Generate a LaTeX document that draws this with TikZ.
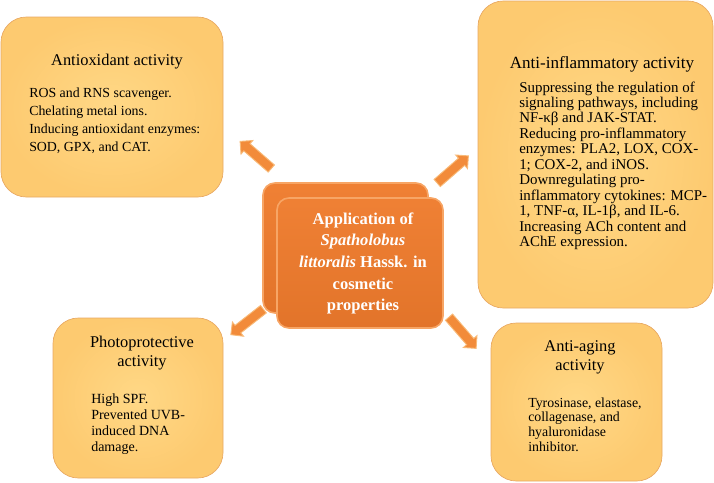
\documentclass[tikz,border=0pt]{standalone}
\usepackage{fontspec}
\setmainfont{Liberation Serif}
\usetikzlibrary{shapes.arrows}
\definecolor{peach}{HTML}{FFD886}
\definecolor{peachdark}{HTML}{FDCA70}
\definecolor{peachline}{HTML}{E8A862}
\definecolor{deeporange}{HTML}{EE7A2C}
\definecolor{lightorange}{HTML}{F7A565}
\definecolor{arrowfill}{HTML}{F28B3A}
\definecolor{arrowline}{HTML}{F8BA78}

% lines hang from the first baseline
\newcommand{\lefttext}[1]{\begin{tabular}[t]{@{}l@{}}#1\end{tabular}}
\newcommand{\midtext}[1]{\begin{tabular}[t]{@{}c@{}}#1\end{tabular}}

\tikzset{
  actbox/.style={draw=peachline, line width=0.5pt, rounded corners=19pt,
    inner color=peach, outer color=peachdark},
  appbox/.style={draw=lightorange, line width=1.2pt, rounded corners=9pt,
    top color=deeporange!85!lightorange, bottom color=deeporange!95!black},
  acttitle/.style={anchor=base, inner sep=0pt,
    font=\fontsize{12.3}{14.5}\selectfont},
  actbody/.style={anchor=base west, inner sep=0pt},
  fatarrow/.style={single arrow, draw=arrowline, fill=arrowfill, line width=0.7pt,
    inner sep=3.2pt, single arrow head extend=3.2pt, minimum height=31pt}
}

\begin{document}
\begin{tikzpicture}[x=0.75pt, y=-0.75pt]
\useasboundingbox (0,0) rectangle (714,482);
% box Antioxidant
\node[actbox, minimum width=166.5pt, minimum height=135pt] (antiox) at (112,107) {};
\node[acttitle] (antioxT) at (117,65) {Antioxidant activity};
\node[actbody, font=\fontsize{10.4}{13.5}\selectfont] (antioxB) at (29,97)
  {\lefttext{ROS and RNS scavenger.\\Chelating metal ions.\\Inducing antioxidant enzymes:\\SOD, GPX, and CAT.}};
% box Anti-inflammatory
\node[actbox, minimum width=176.25pt, minimum height=230.25pt] (inflam) at (595.5,154.5) {};
\node[acttitle, font=\fontsize{12.8}{14.5}\selectfont] (inflamT) at (602,68) {Anti-inflammatory activity};
\node[actbody, font=\fontsize{11.2}{11.6}\selectfont] (inflamB) at (519,92)
  {\lefttext{Suppressing the regulation of\\signaling pathways, including\\NF-κβ and JAK-STAT.\\
   Reducing pro-inflammatory\\enzymes: PLA2, LOX, COX-\\1; COX-2, and iNOS.\\
   Downregulating pro-\\inflammatory cytokines: MCP-\\1, TNF-α, IL-1β, and IL-6.\\
   Increasing ACh content and\\AChE expression.}};
% box Photoprotective
\node[actbox, minimum width=127.5pt, minimum height=120pt] (photo) at (138,398) {};
\node[acttitle] (photoT) at (142,347) {\midtext{Photoprotective\\activity}};
\node[actbody, font=\fontsize{10.5}{12}\selectfont] (photoB) at (91,403)
  {\lefttext{High SPF.\\Prevented UVB-\\induced DNA\\damage.}};
% box Anti-aging
\node[actbox, minimum width=128.25pt, minimum height=118.5pt] (aging) at (576.5,402) {};
\node[acttitle] (agingT) at (580,351) {\midtext{Anti-aging\\activity}};
\node[actbody, font=\fontsize{10.4}{11}\selectfont] (agingB) at (528,407)
  {\lefttext{Tyrosinase, elastase,\\collagenase, and\\hyaluronidase\\inhibitor.}};
% box Application (stacked)
\node[appbox, minimum width=123.75pt, minimum height=97.5pt] (appback) at (345.5,248) {};
\node[appbox, minimum width=124.5pt, minimum height=97.5pt] (app) at (360,263) {};
\node[anchor=base, inner sep=0pt, text=white,
  font=\fontsize{12.4}{16.3}\selectfont\bfseries] (appT) at (363,224)
  {\midtext{Application of\\\textit{Spatholobus}\\\textit{littoralis} Hassk. in\\cosmetic\\properties}};
% arrows
\node[fatarrow, rotate=139] (arNW) at (257.5,156.5) {};
\node[fatarrow, rotate=41] (arNE) at (451,171) {};
\node[fatarrow, rotate=218] (arSW) at (249,320.5) {};
\node[fatarrow, rotate=-49] (arSE) at (461,331) {};
\end{tikzpicture}
\end{document}
